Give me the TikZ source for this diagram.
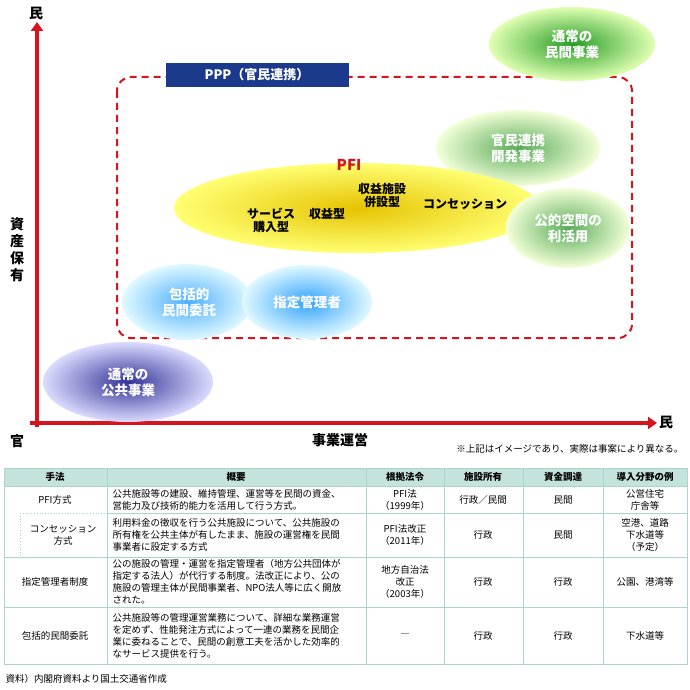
\documentclass[tikz,border=0pt]{standalone}
\usepackage{fontspec}
\setmainfont{Noto Sans CJK JP}
\usetikzlibrary{shapes.geometric,arrows.meta}
\definecolor{axisred}{HTML}{D7141E}
\definecolor{pppblue}{HTML}{1B3A8C}
\definecolor{tabline}{HTML}{A9D6CC}
\definecolor{tabhead}{HTML}{C3E3DC}
\tikzset{
  blob/.style={ellipse, minimum width=#1, inner sep=0pt, align=center, font=\bfseries\fontsize{13.5}{16}\selectfont},
  cell/.style={align=center, font=\fontsize{9.5}{12}\selectfont},
  lcell/.style={align=left, anchor=west, font=\fontsize{9.5}{12}\selectfont},
  axis/.style={line width=4pt, draw=axisred, -{Triangle[length=9pt,width=12pt]}}
}
\begin{document}
\begin{tikzpicture}[x=1pt,y=-1pt]
\useasboundingbox (0,0) rectangle (689,690);
% axes
\coordinate (top) at (37,22);
\coordinate (right) at (657,423);
\draw[axis] (37,427) -- (top);
\draw[axis] (30,423) -- (right);
\node[font=\bfseries\fontsize{14}{16}\selectfont] (minTop) at (36,13) {民};
\node[font=\bfseries\fontsize{14}{16}\selectfont] (kan) at (17,441) {官};
\node[font=\bfseries\fontsize{14}{16}\selectfont] (minRight) at (666,422) {民};
\node[font=\bfseries\fontsize{14}{16}\selectfont] (xlabel) at (340,440) {事業運営};
\node[font=\bfseries\fontsize{14}{17}\selectfont, align=center] (ylabel) at (17,250) {資\\産\\保\\有};
\node[font=\fontsize{9.5}{11}\selectfont, anchor=east] (note) at (687,449) {※上記はイメージであり、実際は事案により異なる。};
% PPP frame
\draw[axisred, line width=2pt, dash pattern=on 7pt off 5pt, rounded corners=14pt] (117,77) rectangle (632,338);
\node[fill=pppblue, text=white, minimum width=183pt, minimum height=24pt, font=\bfseries\fontsize{13}{15}\selectfont] (ppp) at (257,75) {PPP（官民連携）};
% ellipses
\shade[inner color=green!55!black!85, outer color=green!40!yellow!30] (572,44) ellipse (83 and 37);
\node[blob=100pt, text=white] (minkan) at (572,44) {通常の\\民間事業};
\shade[inner color=green!50!black!65, outer color=green!30!yellow!15] (518,148) ellipse (82 and 38);
\node[blob=100pt, text=white] (kaihatsu) at (518,148) {官民連携\\開発事業};
\shade[inner color=yellow!70!orange!90!black, outer color=yellow!55] (357,208) ellipse (183 and 45);
\node[font=\bfseries\fontsize{15}{17}\selectfont, text=axisred] (pfi) at (349,165) {PFI};
\node[cell, font=\bfseries\fontsize{12}{13}\selectfont] (service) at (271,220) {サービス\\購入型};
\node[cell, font=\bfseries\fontsize{12}{13}\selectfont] (shueki) at (327,214) {収益型};
\node[cell, font=\bfseries\fontsize{12}{13}\selectfont] (heisetsu) at (382,195) {収益施設\\併設型};
\node[cell, font=\bfseries\fontsize{12}{13}\selectfont] (concession) at (465,204) {コンセッション};
\shade[inner color=green!50!black!65, outer color=green!30!yellow!15] (568,228) ellipse (62 and 40);
\node[blob=100pt, text=white] (kouteki) at (568,228) {公的空間の\\利活用};
\shade[inner color=blue!45!cyan!70, outer color=blue!20!cyan!12] (187,302) ellipse (65 and 38);
\node[blob=100pt, text=white] (houkatsu) at (189,302) {包括的\\民間委託};
\shade[inner color=blue!45!cyan!80, outer color=blue!20!cyan!12] (307,302) ellipse (65 and 37);
\node[blob=100pt, text=white] (shitei) at (307,302) {指定管理者};
\shade[inner color=blue!50!black!80, outer color=blue!40!white!35] (128,382) ellipse (85 and 40);
\node[blob=100pt, text=white] (koukyou) at (128,382) {通常の\\公共事業};
% table
\fill[tabhead] (4,468) rectangle (687,486);
\draw[tabline, line width=0.8pt] (4,468) rectangle (687,664);
\foreach \y in {486,557,607} \draw[tabline, line width=0.8pt] (4,\y) -- (687,\y);
\draw[tabline, line width=0.8pt] (107,513) -- (687,513);
\draw[tabline, line width=0.8pt, dotted] (20,513) -- (107,513) (20,513) -- (20,557);
\foreach \x in {107,366,444,523,603} \draw[tabline, line width=0.8pt] (\x,468) -- (\x,664);
\foreach \x/\t in {55/手法,236/概要,405/根拠法令,483/施設所有,563/資金調達,645/導入分野の例}
  \node[cell, font=\bfseries\fontsize{9.5}{11}\selectfont] (h\x) at (\x,477) {\t};
\node[cell] (r1a) at (55,500) {PFI方式};
\node[lcell] (r1b) at (109,500) {公共施設等の建設、維持管理、運営等を民間の資金、\\営能力及び技術的能力を活用して行う方式。};
\node[cell] (r1c) at (405,500) {PFI法\\（1999年）};
\node[cell] (r1d) at (483,500) {行政／民間};
\node[cell] (r1e) at (563,500) {民間};
\node[cell] (r1f) at (645,500) {公営住宅\\庁舎等};
\node[cell] (r2a) at (63,535) {コンセッション\\方式};
\node[lcell] (r2b) at (109,535) {利用料金の徴収を行う公共施設について、公共施設の\\所有権を公共主体が有したまま、施設の運営権を民間\\事業者に設定する方式};
\node[cell] (r2c) at (405,535) {PFI法改正\\（2011年）};
\node[cell] (r2d) at (483,535) {行政};
\node[cell] (r2e) at (563,535) {民間};
\node[cell] (r2f) at (645,535) {空港、道路\\下水道等\\（予定）};
\node[cell] (r3a) at (55,582) {指定管理者制度};
\node[lcell] (r3b) at (109,582) {公の施設の管理・運営を指定管理者（地方公共団体が\\指定する法人）が代行する制度。法改正により、公の\\施設の管理主体が民間事業者、NPO法人等に広く開放\\された。};
\node[cell] (r3c) at (405,582) {地方自治法\\改正\\（2003年）};
\node[cell] (r3d) at (483,582) {行政};
\node[cell] (r3e) at (563,582) {行政};
\node[cell] (r3f) at (645,582) {公園、港湾等};
\node[cell] (r4a) at (55,636) {包括的民間委託};
\node[lcell] (r4b) at (109,636) {公共施設等の管理運営業務について、詳細な業務運営\\を定めず、性能発注方式によって一連の業務を民間企\\業に委ねることで、民間の創意工夫を活かした効率的\\なサービス提供を行う。};
\node[cell] (r4c) at (405,636) {―};
\node[cell] (r4d) at (483,636) {行政};
\node[cell] (r4e) at (563,636) {行政};
\node[cell] (r4f) at (645,636) {下水道等};
\node[anchor=west, font=\fontsize{9.5}{11}\selectfont] (source) at (2,679) {資料）内閣府資料より国土交通省作成};
\end{tikzpicture}
\end{document}
